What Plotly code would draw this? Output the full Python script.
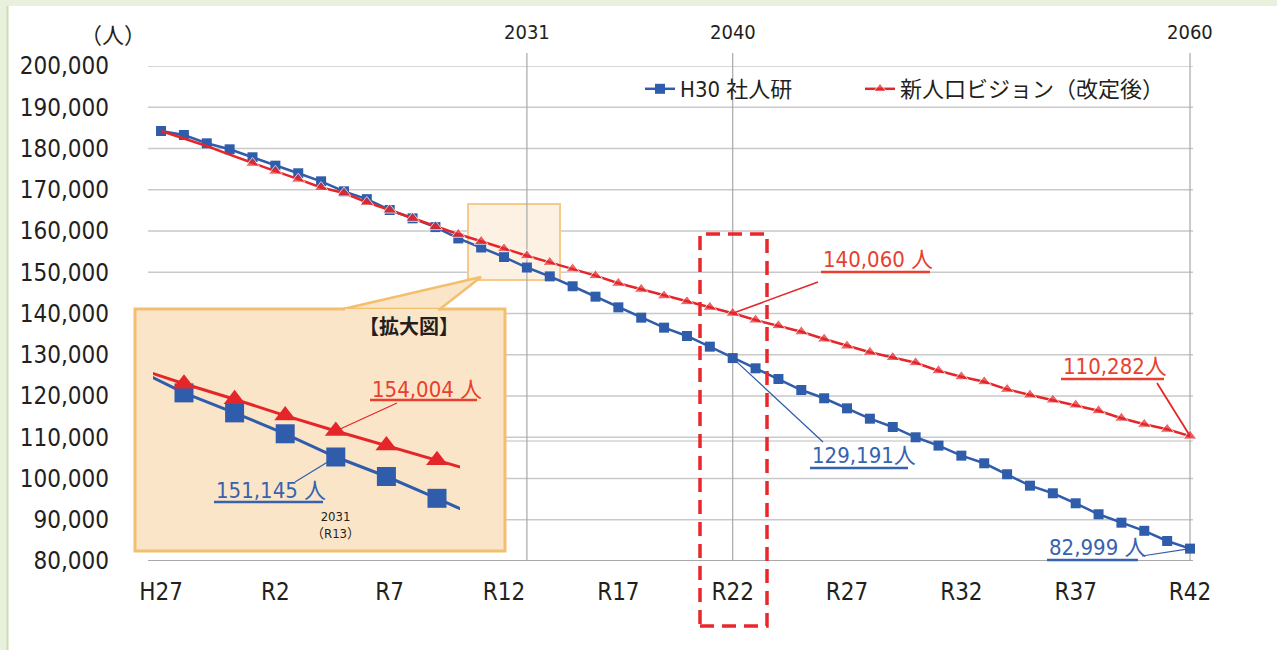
import plotly.graph_objects as go

# ---------------- data ----------------
years = list(range(2015, 2061))
shajinken = [184240, 183270, 181260, 179800, 177870, 175840, 173990, 172040, 169620, 167720,
             165090, 163070, 160950, 158200, 156000, 153700, 151145, 149000, 146600, 144080,
             141490, 138990, 136570, 134550, 131960, 129191, 126710, 124120, 121450, 119450,
             117010, 114500, 112490, 109990, 107970, 105540, 103690, 101030, 98260, 96420,
             93990, 91330, 89290, 87320, 84850, 82999]
vision = [184240, 182400, 180600, 178500, 176410, 174500, 172570, 170550, 169220, 166950,
          165090, 163070, 161050, 159200, 157500, 155700, 154004, 152400, 150800, 149170,
          147320, 145870, 144280, 142870, 141500, 140060, 138420, 137050, 135560, 133820,
          132120, 130600, 129340, 128070, 126130, 124670, 123470, 121620, 120240, 119030,
          117820, 116440, 114620, 113140, 111930, 110282]
series_names = ["H30 社人研", "新人口ビジョン（改定後）"]
tick_years = [2015, 2020, 2025, 2030, 2035, 2040, 2045, 2050, 2055, 2060]
tick_labels = ["H27", "R2", "R7", "R12", "R17", "R22", "R27", "R32", "R37", "R42"]
y_ticks = list(range(80000, 200001, 10000))
marked_years = [2031, 2040, 2060]
inset_years = list(range(2027, 2035))
vision_marker_from = 2019

# ---------------- styling / geometry ----------------
BLUE = "#2F5CAB"
RED = "#E4262A"
RED_TXT = "#E8402E"
BLUE_TXT = "#3762AE"
DARK = "#231F20"
NUM_FONT = "Liberation Sans Narrow, DejaVu Sans Condensed, Roboto, Noto Sans CJK JP, sans-serif"
CJK_FONT = "Noto Sans CJK JP, sans-serif"

W, H = 1277, 650
L, R, T, B = 148, 1193, 66, 561
X0, X1 = 2014.43, 2060.13
Y0, Y1 = 80000, 200000


def PX(px):
    return (px - L) / (R - L)


def PY(py):
    return (B - py) / (B - T)


def DX(px):
    return X0 + (px - L) / (R - L) * (X1 - X0)


def DY(py):
    return Y0 + (B - py) / (B - T) * (Y1 - Y0)


# inset geometry (enlarged view)
IL, IR, IT, IB = 153, 460, 370, 512
I_PX_PER_YEAR = 50.6
I_PX_PER_VAL = 0.00909
I_REF_X, I_REF_PX = 2028, 184
I_REF_V, I_REF_PY = 151145, 457


def IX(px):
    return I_REF_X + (px - I_REF_PX) / I_PX_PER_YEAR


def IY(py):
    return I_REF_V + (I_REF_PY - py) / I_PX_PER_VAL


def val(series, yr):
    return series[years.index(yr)]


fig = go.Figure()

# main series
fig.add_trace(go.Scatter(
    x=years, y=shajinken, name=series_names[0], mode="lines+markers",
    line=dict(color=BLUE, width=2.5),
    marker=dict(symbol="square", size=10, color=BLUE),
    cliponaxis=False, legend="legend",
))
fig.add_trace(go.Scatter(
    x=years, y=vision, name=series_names[1], mode="lines+markers",
    line=dict(color=RED, width=2.5),
    marker=dict(symbol="triangle-up", size=[0 if y < vision_marker_from else 12 for y in years],
                color=RED),
    cliponaxis=False, legend="legend2",
))

# inset (enlarged) series
fig.add_trace(go.Scatter(
    x=inset_years, y=[val(shajinken, y) for y in inset_years], mode="lines+markers",
    line=dict(color=BLUE, width=3), marker=dict(symbol="square", size=19, color=BLUE),
    xaxis="x2", yaxis="y2", showlegend=False,
))
fig.add_trace(go.Scatter(
    x=inset_years, y=[val(vision, y) for y in inset_years], mode="lines+markers",
    line=dict(color=RED, width=3), marker=dict(symbol="triangle-up", size=19, color=RED),
    xaxis="x2", yaxis="y2", showlegend=False,
))

shapes = []
# white panel on green frame
shapes.append(dict(type="rect", xref="paper", yref="paper", x0=PX(7), x1=PX(1300), y0=PY(670), y1=PY(6),
                   fillcolor="white", line=dict(width=0), layer="below"))
shapes.append(dict(type="line", xref="paper", yref="paper", x0=PX(7.5), x1=PX(7.5), y0=PY(670), y1=PY(6),
                   line=dict(color="#CADDB5", width=2), layer="below"))
# horizontal gridlines
for v in y_ticks:
    shapes.append(dict(type="line", xref="paper", yref="y", x0=0, x1=1, y0=v, y1=v,
                       line=dict(color="#A9A9A9" if v == Y0 else "#C9C9C9", width=2 if v == Y0 else 1.6),
                       layer="below"))
shapes.append(dict(type="line", xref="paper", yref="paper", x0=PX(505), x1=1, y0=PY(441), y1=PY(441),
                   line=dict(color="#D3D3D3", width=1.5), layer="below"))
# small highlight box
shapes.append(dict(type="rect", xref="paper", yref="paper", x0=PX(468), x1=PX(560), y0=PY(280), y1=PY(204),
                   fillcolor="#FCF1E2", line=dict(color="#F6CB8A", width=2), layer="below"))
# inset box + callout wedge
shapes.append(dict(type="rect", xref="paper", yref="paper", x0=PX(135), x1=PX(505), y0=PY(551), y1=PY(309),
                   fillcolor="#FBE5C8", line=dict(color="#F3BF6E", width=3), layer="below"))
wedge = "M {a},{b} L {c},{d} L {e},{f} Z".format(a=PX(343), b=PY(309), c=PX(481), d=PY(277),
                                                  e=PX(440), f=PY(309))
shapes.append(dict(type="path", xref="paper", yref="paper", path=wedge,
                   fillcolor="#FBE5C8", line=dict(color="#F3BF6E", width=2.5), layer="below"))
shapes.append(dict(type="line", xref="paper", yref="paper", x0=PX(345), x1=PX(438), y0=PY(310.5), y1=PY(310.5),
                   line=dict(color="#FBE5C8", width=3), layer="below"))
# year marker lines
for yr in marked_years:
    shapes.append(dict(type="line", xref="x", yref="paper", x0=yr, x1=yr, y0=0, y1=PY(53),
                       line=dict(color="#A8A8A8", width=1.2), layer="below"))

# red dashed focus box
shapes.append(dict(type="rect", xref="paper", yref="paper", x0=PX(700), x1=PX(767), y0=PY(626), y1=PY(234),
                   line=dict(color="#E8282B", width=3.5, dash="14px,8px"), layer="above"))

# leader lines (main)
leaders = [
    (vision, 2040, 818, 282, RED, 1.6),
    (shajinken, 2040, 823, 442, BLUE, 1.2),
    (vision, 2060, 1157, 383, RED, 1.8),
    (shajinken, 2060, 1142, 556, BLUE, 1.2),
]
for ser, yr, sx, sy, col, w in leaders:
    shapes.append(dict(type="line", xref="x", yref="y", x0=yr, y0=val(ser, yr), x1=DX(sx), y1=DY(sy),
                       line=dict(color=col, width=w), layer="above"))
# leader lines (inset)
shapes.append(dict(type="line", xref="x2", yref="y2", x0=2031, y0=val(vision, 2031), x1=IX(397), y1=IY(403),
                   line=dict(color=RED, width=1.2), layer="above"))
shapes.append(dict(type="line", xref="x2", yref="y2", x0=2031, y0=val(shajinken, 2031), x1=IX(295), y1=IY(482),
                   line=dict(color=BLUE, width=1.2), layer="above"))

# underlines
underlines = [
    (370, 477, 400, RED_TXT), (214, 323, 502, BLUE_TXT), (821, 930, 272, RED_TXT),
    (810, 908, 468, BLUE_TXT), (1061, 1164, 379, RED_TXT), (1047, 1138, 560, BLUE_TXT),
]
for xa, xb, yy, col in underlines:
    shapes.append(dict(type="line", xref="paper", yref="paper", x0=PX(xa), x1=PX(xb), y0=PY(yy), y1=PY(yy),
                       line=dict(color=col, width=2.5), layer="above"))

annotations = []


def note(text, px, py, size, color, family=NUM_FONT, xanchor="center"):
    annotations.append(dict(text=text, xref="paper", yref="paper", x=PX(px), y=PY(py),
                            xanchor=xanchor, yanchor="middle", showarrow=False,
                            font=dict(size=size, color=color, family=family)))


note("（人）", 113, 33, 22, DARK, CJK_FONT)
for yr in marked_years:
    annotations.append(dict(text=str(yr), xref="x", yref="paper", x=yr, y=PY(32), showarrow=False,
                            xanchor="center", yanchor="middle",
                            font=dict(size=20, color=DARK, family=NUM_FONT)))

note("{:,} 人".format(val(vision, 2031)), 370, 389, 22, RED_TXT, xanchor="left")
note("{:,} 人".format(val(shajinken, 2031)), 214, 490, 22, BLUE_TXT, xanchor="left")
note("{:,} 人".format(val(vision, 2040)), 821, 259, 22, RED_TXT, xanchor="left")
note("{:,}人".format(val(shajinken, 2040)), 810, 455, 22, BLUE_TXT, xanchor="left")
note("{:,}人".format(val(vision, 2060)), 1061, 366, 22, RED_TXT, xanchor="left")
note("{:,} 人".format(val(shajinken, 2060)), 1047, 547, 22, BLUE_TXT, xanchor="left")
note("<b>【拡大図】</b>", 409, 325, 20, DARK, CJK_FONT)
annotations.append(dict(text="2031<br>（R13）", xref="x2", yref="paper", x=2031, y=PY(525), showarrow=False,
                        xanchor="center", yanchor="middle",
                        font=dict(size=13, color=DARK, family=NUM_FONT)))

legend_common = dict(orientation="h", xanchor="left", yanchor="top", bgcolor="rgba(0,0,0,0)",
                     font=dict(size=22, color=DARK, family=NUM_FONT), itemwidth=30)

fig.update_layout(
    width=W, height=H,
    margin=dict(l=L, r=W - R, t=T, b=H - B, pad=0),
    paper_bgcolor="#E8F1DB",
    plot_bgcolor="rgba(0,0,0,0)",
    xaxis=dict(range=[X0, X1], domain=[0, 1], tickvals=tick_years, ticktext=tick_labels,
               showgrid=False, zeroline=False, showline=False, ticks="",
               tickfont=dict(size=24, color=DARK, family=NUM_FONT), ticklabelstandoff=14),
    yaxis=dict(range=[Y0, Y1], tickvals=y_ticks, ticktext=["{:,}".format(v) for v in y_ticks],
               showgrid=False, zeroline=False, showline=False, ticks="",
               tickfont=dict(size=24, color=DARK, family=NUM_FONT), ticklabelstandoff=38),
    xaxis2=dict(domain=[PX(IL), PX(IR)], anchor="y2", range=[IX(IL), IX(IR)], visible=False),
    yaxis2=dict(domain=[PY(IB), PY(IT)], anchor="x2", range=[IY(IB), IY(IT)], visible=False),
    legend=dict(x=PX(640), y=PY(68), **legend_common),
    legend2=dict(x=PX(860), y=PY(68), **legend_common),
    shapes=shapes,
    annotations=annotations,
    showlegend=True,
)

fig.write_html("out.html", config={"displayModeBar": False},
               post_script="document.body.style.margin='0px';")
